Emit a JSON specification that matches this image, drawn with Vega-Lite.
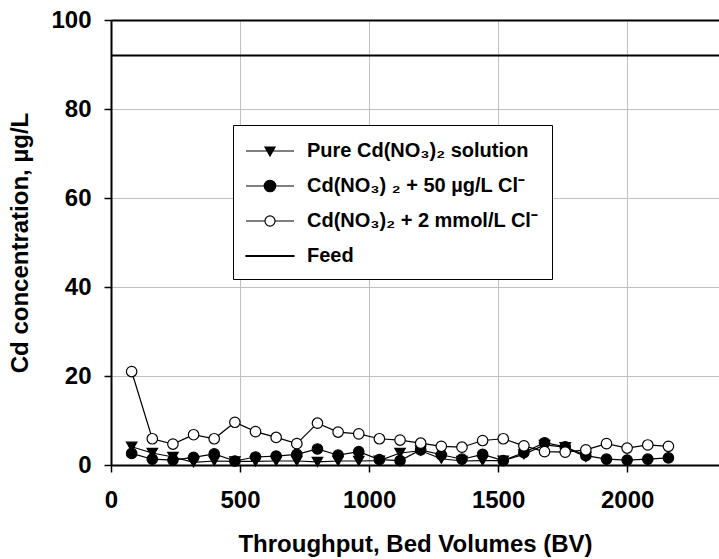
{
  "$schema": "https://vega.github.io/schema/vega-lite/v6.json",
  "width": 608,
  "height": 445,
  "autosize": {"type": "none"},
  "padding": {"left": 111, "top": 20, "right": 0, "bottom": 94},
  "background": "white",
  "config": {"font": "Liberation Sans", "view": {"stroke": null}},
  "datasets": {
    "feed": [{"series": "Feed", "conc": 92}],
    "series": [
      {"series": "Pure Cd(NO₃)₂ solution", "bv": 80, "conc": 4.1},
      {"series": "Pure Cd(NO₃)₂ solution", "bv": 160, "conc": 2.7},
      {"series": "Pure Cd(NO₃)₂ solution", "bv": 240, "conc": 1.8},
      {"series": "Pure Cd(NO₃)₂ solution", "bv": 320, "conc": 0.6},
      {"series": "Pure Cd(NO₃)₂ solution", "bv": 400, "conc": 0.9},
      {"series": "Pure Cd(NO₃)₂ solution", "bv": 480, "conc": 0.8},
      {"series": "Pure Cd(NO₃)₂ solution", "bv": 560, "conc": 0.8},
      {"series": "Pure Cd(NO₃)₂ solution", "bv": 640, "conc": 0.9},
      {"series": "Pure Cd(NO₃)₂ solution", "bv": 720, "conc": 0.9},
      {"series": "Pure Cd(NO₃)₂ solution", "bv": 800, "conc": 0.7},
      {"series": "Pure Cd(NO₃)₂ solution", "bv": 880, "conc": 0.9},
      {"series": "Pure Cd(NO₃)₂ solution", "bv": 960, "conc": 0.9},
      {"series": "Pure Cd(NO₃)₂ solution", "bv": 1040, "conc": 1.0},
      {"series": "Pure Cd(NO₃)₂ solution", "bv": 1120, "conc": 2.7},
      {"series": "Pure Cd(NO₃)₂ solution", "bv": 1200, "conc": 3.2},
      {"series": "Pure Cd(NO₃)₂ solution", "bv": 1280, "conc": 1.4},
      {"series": "Pure Cd(NO₃)₂ solution", "bv": 1360, "conc": 0.9},
      {"series": "Pure Cd(NO₃)₂ solution", "bv": 1440, "conc": 1.0},
      {"series": "Pure Cd(NO₃)₂ solution", "bv": 1520, "conc": 1.0},
      {"series": "Pure Cd(NO₃)₂ solution", "bv": 1600, "conc": 2.4},
      {"series": "Pure Cd(NO₃)₂ solution", "bv": 1680, "conc": 4.5},
      {"series": "Pure Cd(NO₃)₂ solution", "bv": 1760, "conc": 4.0},
      {"series": "Pure Cd(NO₃)₂ solution", "bv": 1840, "conc": 1.8},
      {"series": "Cd(NO₃) ₂ + 50 µg/L Cl⁻", "bv": 80, "conc": 2.6},
      {"series": "Cd(NO₃) ₂ + 50 µg/L Cl⁻", "bv": 160, "conc": 1.3},
      {"series": "Cd(NO₃) ₂ + 50 µg/L Cl⁻", "bv": 240, "conc": 1.1},
      {"series": "Cd(NO₃) ₂ + 50 µg/L Cl⁻", "bv": 320, "conc": 1.7},
      {"series": "Cd(NO₃) ₂ + 50 µg/L Cl⁻", "bv": 400, "conc": 2.5},
      {"series": "Cd(NO₃) ₂ + 50 µg/L Cl⁻", "bv": 480, "conc": 0.9},
      {"series": "Cd(NO₃) ₂ + 50 µg/L Cl⁻", "bv": 560, "conc": 1.8},
      {"series": "Cd(NO₃) ₂ + 50 µg/L Cl⁻", "bv": 640, "conc": 2.0},
      {"series": "Cd(NO₃) ₂ + 50 µg/L Cl⁻", "bv": 720, "conc": 2.4},
      {"series": "Cd(NO₃) ₂ + 50 µg/L Cl⁻", "bv": 800, "conc": 3.6},
      {"series": "Cd(NO₃) ₂ + 50 µg/L Cl⁻", "bv": 880, "conc": 2.2},
      {"series": "Cd(NO₃) ₂ + 50 µg/L Cl⁻", "bv": 960, "conc": 3.0},
      {"series": "Cd(NO₃) ₂ + 50 µg/L Cl⁻", "bv": 1040, "conc": 1.2},
      {"series": "Cd(NO₃) ₂ + 50 µg/L Cl⁻", "bv": 1120, "conc": 1.0},
      {"series": "Cd(NO₃) ₂ + 50 µg/L Cl⁻", "bv": 1200, "conc": 3.4},
      {"series": "Cd(NO₃) ₂ + 50 µg/L Cl⁻", "bv": 1280, "conc": 2.3},
      {"series": "Cd(NO₃) ₂ + 50 µg/L Cl⁻", "bv": 1360, "conc": 1.3},
      {"series": "Cd(NO₃) ₂ + 50 µg/L Cl⁻", "bv": 1440, "conc": 2.4},
      {"series": "Cd(NO₃) ₂ + 50 µg/L Cl⁻", "bv": 1520, "conc": 1.0},
      {"series": "Cd(NO₃) ₂ + 50 µg/L Cl⁻", "bv": 1600, "conc": 2.8},
      {"series": "Cd(NO₃) ₂ + 50 µg/L Cl⁻", "bv": 1680, "conc": 5.0},
      {"series": "Cd(NO₃) ₂ + 50 µg/L Cl⁻", "bv": 1760, "conc": 4.1},
      {"series": "Cd(NO₃) ₂ + 50 µg/L Cl⁻", "bv": 1840, "conc": 2.1},
      {"series": "Cd(NO₃) ₂ + 50 µg/L Cl⁻", "bv": 1920, "conc": 1.3},
      {"series": "Cd(NO₃) ₂ + 50 µg/L Cl⁻", "bv": 2000, "conc": 1.1},
      {"series": "Cd(NO₃) ₂ + 50 µg/L Cl⁻", "bv": 2080, "conc": 1.3},
      {"series": "Cd(NO₃) ₂ + 50 µg/L Cl⁻", "bv": 2160, "conc": 1.6},
      {"series": "Cd(NO₃)₂ + 2 mmol/L Cl⁻", "bv": 80, "conc": 21.0},
      {"series": "Cd(NO₃)₂ + 2 mmol/L Cl⁻", "bv": 160, "conc": 5.9},
      {"series": "Cd(NO₃)₂ + 2 mmol/L Cl⁻", "bv": 240, "conc": 4.7},
      {"series": "Cd(NO₃)₂ + 2 mmol/L Cl⁻", "bv": 320, "conc": 6.8},
      {"series": "Cd(NO₃)₂ + 2 mmol/L Cl⁻", "bv": 400, "conc": 5.9},
      {"series": "Cd(NO₃)₂ + 2 mmol/L Cl⁻", "bv": 480, "conc": 9.6},
      {"series": "Cd(NO₃)₂ + 2 mmol/L Cl⁻", "bv": 560, "conc": 7.5},
      {"series": "Cd(NO₃)₂ + 2 mmol/L Cl⁻", "bv": 640, "conc": 6.2},
      {"series": "Cd(NO₃)₂ + 2 mmol/L Cl⁻", "bv": 720, "conc": 4.8},
      {"series": "Cd(NO₃)₂ + 2 mmol/L Cl⁻", "bv": 800, "conc": 9.4},
      {"series": "Cd(NO₃)₂ + 2 mmol/L Cl⁻", "bv": 880, "conc": 7.4},
      {"series": "Cd(NO₃)₂ + 2 mmol/L Cl⁻", "bv": 960, "conc": 7.0},
      {"series": "Cd(NO₃)₂ + 2 mmol/L Cl⁻", "bv": 1040, "conc": 5.9},
      {"series": "Cd(NO₃)₂ + 2 mmol/L Cl⁻", "bv": 1120, "conc": 5.6},
      {"series": "Cd(NO₃)₂ + 2 mmol/L Cl⁻", "bv": 1200, "conc": 4.9},
      {"series": "Cd(NO₃)₂ + 2 mmol/L Cl⁻", "bv": 1280, "conc": 4.2},
      {"series": "Cd(NO₃)₂ + 2 mmol/L Cl⁻", "bv": 1360, "conc": 4.0},
      {"series": "Cd(NO₃)₂ + 2 mmol/L Cl⁻", "bv": 1440, "conc": 5.5},
      {"series": "Cd(NO₃)₂ + 2 mmol/L Cl⁻", "bv": 1520, "conc": 5.9},
      {"series": "Cd(NO₃)₂ + 2 mmol/L Cl⁻", "bv": 1600, "conc": 4.3},
      {"series": "Cd(NO₃)₂ + 2 mmol/L Cl⁻", "bv": 1680, "conc": 3.0},
      {"series": "Cd(NO₃)₂ + 2 mmol/L Cl⁻", "bv": 1760, "conc": 2.9},
      {"series": "Cd(NO₃)₂ + 2 mmol/L Cl⁻", "bv": 1840, "conc": 3.4},
      {"series": "Cd(NO₃)₂ + 2 mmol/L Cl⁻", "bv": 1920, "conc": 4.8},
      {"series": "Cd(NO₃)₂ + 2 mmol/L Cl⁻", "bv": 2000, "conc": 3.8},
      {"series": "Cd(NO₃)₂ + 2 mmol/L Cl⁻", "bv": 2080, "conc": 4.5},
      {"series": "Cd(NO₃)₂ + 2 mmol/L Cl⁻", "bv": 2160, "conc": 4.2}
    ]
  },
  "resolve": {"scale": {"shape": "independent", "fill": "independent", "stroke": "independent"}, "legend": {"shape": "independent", "fill": "independent", "stroke": "independent"}},
  "layer": [
    {
      "data": {"name": "feed"},
      "mark": {"type": "rule", "color": "black", "strokeWidth": 2},
      "encoding": {
        "y": {"field": "conc", "type": "quantitative", "scale": {"domain": [0, 100], "nice": false}}
      }
    },
    {
      "data": {"name": "series"},
      "mark": {"type": "line", "color": "black", "strokeWidth": 1.2},
      "encoding": {
        "x": {
          "field": "bv", "type": "quantitative",
          "scale": {"domain": [0, 2356], "nice": false, "zero": false},
          "axis": {
            "values": [0, 500, 1000, 1500, 2000], "format": "d",
            "title": "Throughput, Bed Volumes (BV)",
            "grid": true, "gridColor": "#c0c0c0", "gridWidth": 1,
            "domainColor": "black", "domainWidth": 2,
            "tickColor": "black", "tickWidth": 1.5, "tickSize": 7,
            "labelFont": "Liberation Sans", "labelFontSize": 24, "labelFontWeight": "bold", "labelColor": "black",
            "labelPadding": 16, "labelFlush": false, "labelOverlap": false,
            "titleFont": "Liberation Sans", "titleFontSize": 24, "titleFontWeight": "bold", "titleColor": "black",
            "titlePadding": 20
          }
        },
        "y": {
          "field": "conc", "type": "quantitative",
          "scale": {"domain": [0, 100], "nice": false},
          "axis": {
            "values": [0, 20, 40, 60, 80, 100], "format": "d",
            "title": "Cd concentration, µg/L",
            "grid": true,
            "gridColor": {"condition": {"test": "datum.value === 100", "value": "black"}, "value": "#c0c0c0"},
            "gridWidth": {"condition": {"test": "datum.value === 100", "value": 2}, "value": 1},
            "domainColor": "black", "domainWidth": 2,
            "tickColor": "black", "tickWidth": 1.5, "tickSize": 7,
            "labelFont": "Liberation Sans", "labelFontSize": 24, "labelFontWeight": "bold", "labelColor": "black",
            "labelPadding": 13,
            "titleFont": "Liberation Sans", "titleFontSize": 24, "titleFontWeight": "bold", "titleColor": "black",
            "titlePadding": 18
          }
        },
        "detail": {"field": "series", "type": "nominal"}
      }
    },
    {
      "data": {"name": "series"},
      "mark": {"type": "point", "filled": true, "stroke": "black", "strokeWidth": 1.2, "size": 110, "opacity": 1},
      "encoding": {
        "x": {"field": "bv", "type": "quantitative"},
        "y": {"field": "conc", "type": "quantitative"},
        "shape": {
          "field": "series", "type": "nominal",
          "scale": {
            "domain": ["Pure Cd(NO₃)₂ solution", "Cd(NO₃) ₂ + 50 µg/L Cl⁻", "Cd(NO₃)₂ + 2 mmol/L Cl⁻"],
            "range": ["triangle-down", "circle", "circle"]
          },
          "legend": null
        },
        "fill": {
          "field": "series", "type": "nominal",
          "scale": {
            "domain": ["Pure Cd(NO₃)₂ solution", "Cd(NO₃) ₂ + 50 µg/L Cl⁻", "Cd(NO₃)₂ + 2 mmol/L Cl⁻"],
            "range": ["black", "black", "white"]
          },
          "legend": null
        }
      }
    },
    {
      "data": {"name": "feed"},
      "mark": {"type": "point", "filled": true, "strokeWidth": 1.2, "opacity": 0},
      "encoding": {
        "shape": {
          "field": "series", "type": "nominal",
          "scale": {
            "domain": ["Pure Cd(NO₃)₂ solution", "Cd(NO₃) ₂ + 50 µg/L Cl⁻", "Cd(NO₃)₂ + 2 mmol/L Cl⁻", "Feed"],
            "range": [
              "M-2,0H2M-0.42,-0.33L0.42,-0.33L0,0.42Z",
              "M-2,0H2M-0.48,0A0.48,0.48,0,1,0,0.48,0A0.48,0.48,0,1,0,-0.48,0Z",
              "M-2,0H-0.42M0.42,0H2M-0.42,0A0.42,0.42,0,1,0,0.42,0A0.42,0.42,0,1,0,-0.42,0Z",
              "M-2,-0.04H2V0.04H-2Z"
            ]
          },
          "legend": {
            "title": null,
            "orient": "none", "legendX": 122, "legendY": 105,
            "padding": 13, "rowPadding": 12,
            "symbolSize": 576, "symbolOffset": 11, "labelOffset": 24,
            "symbolOpacity": 1, "symbolStrokeWidth": 1.2,
            "strokeColor": "black", "fillColor": "white", "cornerRadius": 0,
            "labelFont": "Liberation Sans", "labelFontSize": 20, "labelFontWeight": "bold", "labelColor": "black",
            "labelLimit": 400
          }
        },
        "fill": {
          "field": "series", "type": "nominal",
          "scale": {
            "domain": ["Pure Cd(NO₃)₂ solution", "Cd(NO₃) ₂ + 50 µg/L Cl⁻", "Cd(NO₃)₂ + 2 mmol/L Cl⁻", "Feed"],
            "range": ["black", "black", "white", "black"]
          },
          "legend": {
            "title": null,
            "orient": "none", "legendX": 122, "legendY": 105,
            "padding": 13, "rowPadding": 12,
            "symbolSize": 576, "symbolOffset": 11, "labelOffset": 24,
            "symbolOpacity": 1, "symbolStrokeWidth": 1.2,
            "strokeColor": "black", "fillColor": "white", "cornerRadius": 0,
            "labelFont": "Liberation Sans", "labelFontSize": 20, "labelFontWeight": "bold", "labelColor": "black",
            "labelLimit": 400
          }
        },
        "stroke": {
          "field": "series", "type": "nominal",
          "scale": {
            "domain": ["Pure Cd(NO₃)₂ solution", "Cd(NO₃) ₂ + 50 µg/L Cl⁻", "Cd(NO₃)₂ + 2 mmol/L Cl⁻", "Feed"],
            "range": ["black", "black", "black", "black"]
          },
          "legend": {
            "title": null,
            "orient": "none", "legendX": 122, "legendY": 105,
            "padding": 13, "rowPadding": 12,
            "symbolSize": 576, "symbolOffset": 11, "labelOffset": 24,
            "symbolOpacity": 1, "symbolStrokeWidth": 1.2,
            "strokeColor": "black", "fillColor": "white", "cornerRadius": 0,
            "labelFont": "Liberation Sans", "labelFontSize": 20, "labelFontWeight": "bold", "labelColor": "black",
            "labelLimit": 400
          }
        }
      }
    }
  ]
}
